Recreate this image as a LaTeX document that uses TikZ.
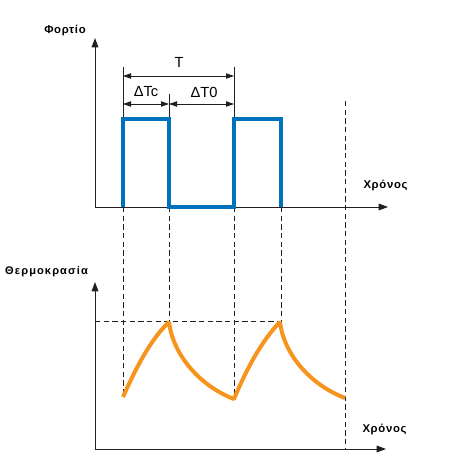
\documentclass[tikz,border=0pt]{standalone}
\usepackage{fontspec}
\setmainfont{Liberation Sans}
\newfontfamily\greekwide[LetterSpace=6]{Liberation Sans}
\newfontfamily\greekwider[LetterSpace=10]{Liberation Sans}
\usetikzlibrary{arrows.meta}

\definecolor{loadblue}{RGB}{0,114,188}
\definecolor{temporange}{RGB}{247,148,30}
\definecolor{axisgray}{RGB}{35,31,32}

\tikzset{every picture/.style={line width=0.75pt}}
\tikzset{
  axisline/.style={draw=axisgray, -{Triangle[length=7pt,width=5pt]}},
  dimline/.style={draw=axisgray, line width=0.6pt, {Triangle[length=6pt,width=4pt]}-{Triangle[length=6pt,width=4pt]}},
  extline/.style={draw=axisgray, line width=0.6pt},
  guide/.style={draw=axisgray, line width=0.6pt, dash pattern=on 4pt off 2.5pt},
  axislabel/.style={font=\greekwide\bfseries\fontsize{8.5}{10}\selectfont},
  templabel/.style={font=\greekwider\bfseries\fontsize{8.3}{10}\selectfont},
  timelabel/.style={font=\greekwide\bfseries\fontsize{8.5}{10}\selectfont},
  dimlabel/.style={font=\fontsize{11}{13}\selectfont}
}

\begin{document}
\begin{tikzpicture}[x=0.75pt,y=0.75pt,yscale=-1,xscale=1]
	\useasboundingbox (0,0) rectangle (450,470);

	% switching instants
	\coordinate (on1) at (123,207);
	\coordinate (off1) at (169,207);
	\coordinate (on2) at (234,207);
	\coordinate (off2) at (281,207);
	\coordinate (tend) at (345,101);

	%Straight Lines: dashed guides
	\draw [guide] (on1) -- (123,392) ;
	\draw [guide] (off1) -- (169,322) ;
	\draw [guide] (on2) -- (234,399) ;
	\draw [guide] (off2) -- (281,322) ;
	\draw [guide] (tend) -- (345,449) ;
	\draw [guide] (95,321) -- (281,321) ;

	%Shape: Axis 2D (load)
	\draw [axisline] (95,207) -- (388,207) ;
	\draw [axisline] (95,207) -- (95,38) ;
	%Shape: Axis 2D (temperature)
	\draw [axisline] (95,449) -- (386,449) ;
	\draw [axisline] (95,449) -- (95,282) ;

	%Straight Lines: extension lines
	\draw [extline] (123,67) -- (123,119) ;
	\draw [extline] (234,67) -- (234,119) ;
	\draw [extline] (169,94) -- (169,119) ;
	%Straight Lines: dimensions
	\draw [dimline] (123,76) -- (234,76) ;
	\draw [dimline] (123,104) -- (169,104) ;
	\draw [dimline] (169,104) -- (234,104) ;

	%Load pulses
	\draw [loadblue, line width=3pt] (on1) -- (123,119) -- (169,119) -- (169,207) -- (234,207) -- (234,119) -- (281,119) -- (off2) ;

	%Curve Lines: temperature
	\draw [temporange, line width=3pt, line join=bevel] (123,397) .. controls (135,370) and (150,340) .. (169,322) .. controls (173,355) and (200,386) .. (234,399) .. controls (246,370) and (262,340) .. (280,322) .. controls (284,355) and (311,385) .. (345,398) ;

	% Text Node
	\draw (65,31) node [axislabel] (load) {Φορτίο};
	% Text Node
	\draw (46.5,272) node [templabel] (temp) {Θερμοκρασία};
	% Text Node
	\draw (385.5,186) node [timelabel] (time1) {Χρόνος};
	% Text Node
	\draw (384.5,429) node [timelabel] (time2) {Χρόνος};
	% Text Node
	\draw (179,62) node [dimlabel] (period) {T};
	% Text Node
	\draw (146,92) node [dimlabel] (tc) {ΔTc};
	% Text Node
	\draw (204,92) node [dimlabel] (t0) {ΔT0};

\end{tikzpicture}
\end{document}
